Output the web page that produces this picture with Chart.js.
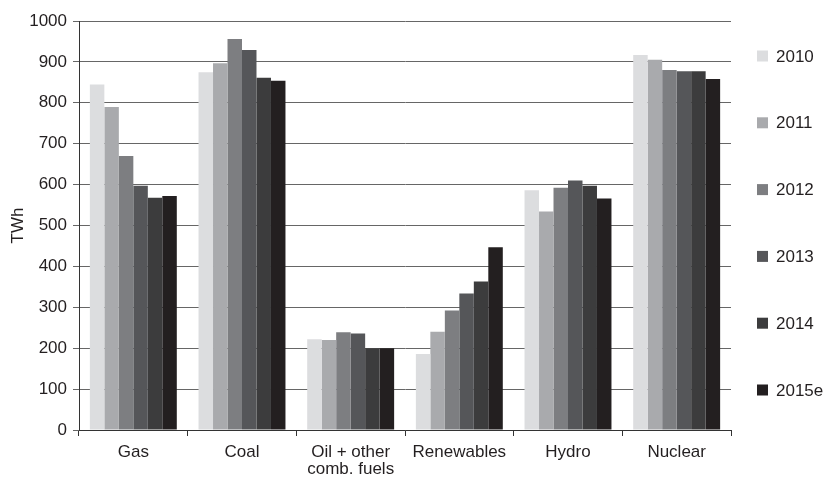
<!DOCTYPE html>
<html>
<head>
<meta charset="utf-8">
<script src="https://cdn.jsdelivr.net/npm/chart.js@4/dist/chart.umd.min.js"></script>
<style>
html,body{margin:0;padding:0;background:#fff;}
#wrap{width:825px;height:478px;position:relative;}
</style>
</head>
<body>
<div id="wrap"><canvas id="c" width="825" height="478"></canvas></div>
<script>
const categories = ["Gas", "Coal", ["Oil + other", "comb. fuels"], "Renewables", "Hydro", "Nuclear"];
const seriesLabels = ["2010", "2011", "2012", "2013", "2014", "2015e"];
const seriesColors = ["#dcdddf", "#a9aaad", "#7d7e81", "#555659", "#3c3c3d", "#231f20"];
const v2010  = [845, 875, 222, 186, 586, 917];
const v2011  = [790, 897, 220, 240, 534, 905];
const v2012  = [670, 956, 239, 292, 592, 880];
const v2013  = [597, 929, 236, 334, 610, 877];
const v2014  = [568, 861, 200, 363, 597, 877];
const v2015e = [572, 854, 200, 447, 566, 858];
const seriesValues = [v2010, v2011, v2012, v2013, v2014, v2015e];
const yTicks = [0, 100, 200, 300, 400, 500, 600, 700, 800, 900, 1000];

const FONT = "'Liberation Sans', Arial, Helvetica, sans-serif";
const FSIZE = 17;

const sideLegend = {
  id: 'sideLegend',
  afterDraw(chart) {
    const ctx = chart.ctx;
    ctx.save();
    ctx.font = FSIZE + "px " + FONT;
    ctx.textBaseline = 'middle';
    ctx.textAlign = 'left';
    const top = 56, step = 66.8;
    chart.data.datasets.forEach((ds, i) => {
      const cy = top + i * step;
      ctx.fillStyle = ds.backgroundColor;
      ctx.fillRect(757, cy - 5.5, 11, 11);
      ctx.fillStyle = '#231f20';
      ctx.fillText(ds.label, 776, cy + 1);
    });
    ctx.restore();
  }
};

Chart.defaults.font.family = FONT;
Chart.defaults.font.size = FSIZE;
Chart.defaults.color = '#231f20';

new Chart(document.getElementById('c'), {
  type: 'bar',
  data: {
    labels: categories,
    datasets: seriesLabels.map((l, i) => ({
      label: l,
      data: seriesValues[i],
      backgroundColor: seriesColors[i],
      borderWidth: 0,
      categoryPercentage: 0.8,
      barPercentage: 1.0
    }))
  },
  options: {
    responsive: false,
    animation: false,
    devicePixelRatio: 1,
    layout: { padding: { left: 0, right: 94, top: 21, bottom: 0 } },
    plugins: { legend: { display: false }, tooltip: { enabled: false } },
    scales: {
      x: {
        offset: true,
        grid: {
          offset: true,
          drawOnChartArea: false,
          drawTicks: true,
          tickLength: 6,
          color: '#333333',
          lineWidth: 1
        },
        border: { display: true, color: '#333333', width: 1 },
        ticks: { padding: 7, font: { size: FSIZE, lineHeight: 1.05 }, color: '#231f20', maxRotation: 0, autoSkip: false },
        afterFit(scale) { scale.height = 48; }
      },
      y: {
        min: 0,
        max: 1000,
        afterBuildTicks(scale) { scale.ticks = yTicks.map(v => ({ value: v })); },
        grid: {
          color: '#666666',
          lineWidth: 1,
          drawTicks: true,
          tickLength: 6
        },
        border: { display: true, color: '#333333', width: 1 },
        ticks: { padding: 6, color: '#231f20', font: { size: FSIZE }, callback: (v) => String(v) },
        title: { display: true, text: 'TWh', color: '#231f20', font: { size: FSIZE }, padding: { top: 8, bottom: 0 } },
        afterFit(scale) { scale.width = 79; }
      }
    }
  },
  plugins: [sideLegend]
});
</script>
</body>
</html>
